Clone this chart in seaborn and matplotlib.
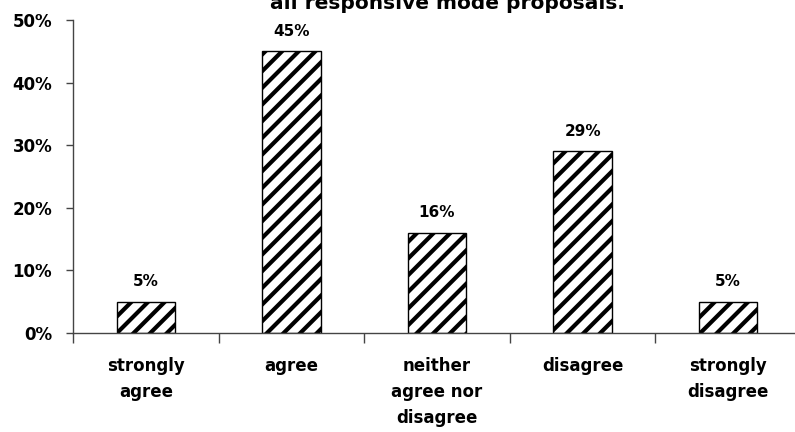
import numpy as np
import pandas as pd
import seaborn as sns
import matplotlib.pyplot as plt

# Data
categories = ['strongly\nagree', 'agree', 'neither\nagree nor\ndisagree', 'disagree', 'strongly\ndisagree']
shares = [5, 45, 16, 29, 5]
title_text = 'all responsive mode proposals.'

df = pd.DataFrame({'category': categories, 'share': shares})

sns.set_style('white')
plt.rcParams['font.family'] = ['DejaVu Sans']
plt.rcParams['text.color'] = 'black'
plt.rcParams['xtick.color'] = 'black'
plt.rcParams['ytick.color'] = 'black'
plt.rcParams['hatch.linewidth'] = 3.0
plt.rcParams['hatch.color'] = 'black'

fig = plt.figure(figsize=(7.95, 4.32), dpi=100)
ax = fig.add_axes([73 / 795, 1 - 333 / 432, 728 / 795, 313 / 432])

sns.barplot(data=df, x='category', y='share', color='white', edgecolor='black',
            linewidth=1, width=0.4, hatch='//', ax=ax)

ax.set_ylim(0, 50)
ax.set_xlim(-0.5, len(categories) - 0.5)
ax.set_yticks(np.arange(0, 51, 10))
ax.set_yticklabels([f'{v}%' for v in range(0, 51, 10)], fontsize=12, fontweight='bold')
ax.set_xticks(np.arange(len(categories)))
ax.set_xticklabels(categories, fontsize=12, fontweight='bold', linespacing=1.6, va='top')
ax.tick_params(axis='x', length=0, pad=17)
ax.tick_params(axis='y', length=5, width=1, color='#444444', pad=10, direction='out', left=True)

# category boundary ticks on the x axis
ax.set_xticks(np.arange(len(categories)) - 0.5, minor=True)
ax.tick_params(axis='x', which='minor', length=7, width=1, color='#444444', direction='out', bottom=True)

for side in ['top', 'right']:
    ax.spines[side].set_visible(False)
for side in ['left', 'bottom']:
    ax.spines[side].set_color('#444444')
    ax.spines[side].set_linewidth(1)

ax.bar_label(ax.containers[0], labels=[f'{v}%' for v in shares], padding=9,
             fontsize=11, fontweight='bold')

ax.set_xlabel('')
ax.set_ylabel('')

# the title's first line sits above the picture's top edge, as in the source
fig.text(447 / 795, 1 - 9 / 432, title_text, ha='center', va='baseline',
         fontsize=14.5, fontweight='bold')

fig.savefig('out.png', dpi=100)
